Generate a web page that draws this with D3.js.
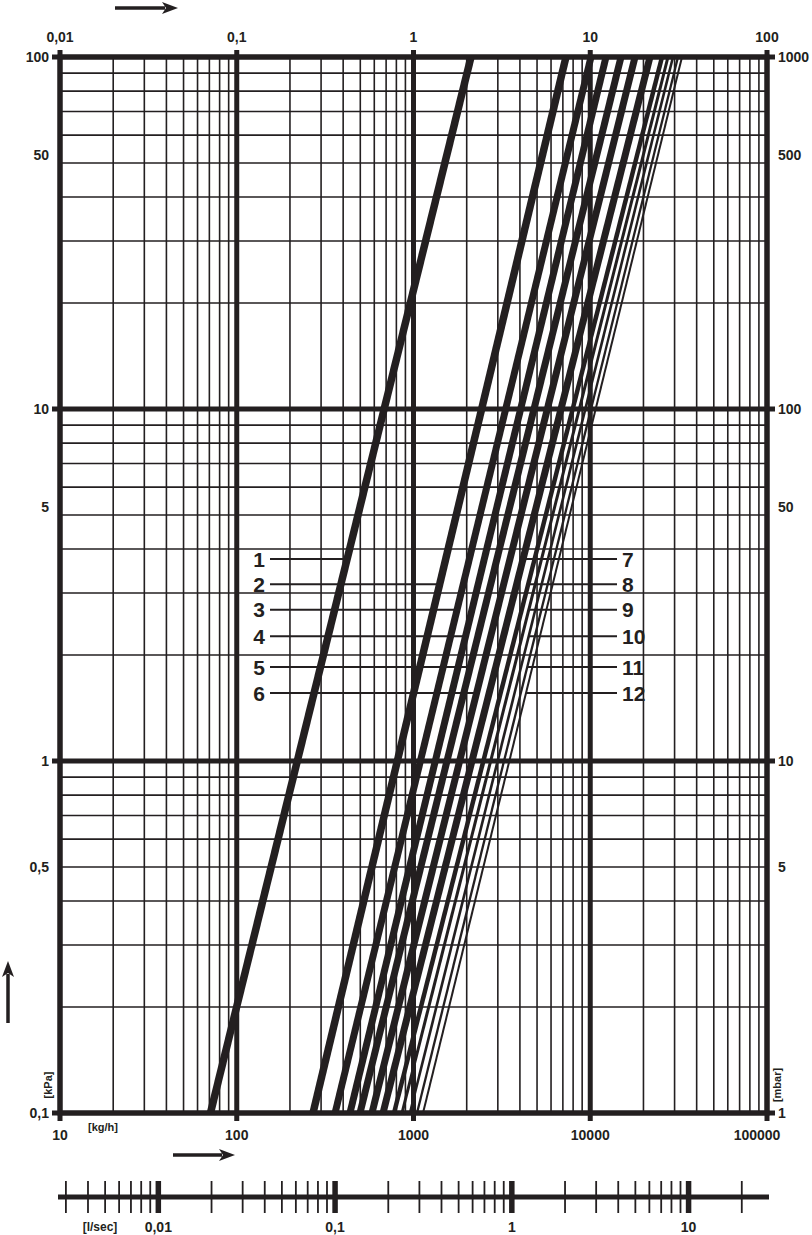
<!DOCTYPE html>
<html><head><meta charset="utf-8">
<script src="https://cdn.jsdelivr.net/npm/d3@7"></script>
<style>
body{margin:0;background:#fff;}
svg{display:block;}
text{font-family:"Liberation Sans Narrow","Liberation Sans",Arial,sans-serif;font-weight:bold;fill:#231f20;}
</style></head>
<body>
<script>
// ---- data ----
const flowDomain = [10, 100000];          // kg/h
const dpDomain = [0.1, 100];              // kPa
const curveIds = [1,2,3,4,5,6,7,8,9,10,11,12];
const flowAt01kPa = [71, 270, 360, 437, 498, 582, 672, 776, 861, 955, 1047, 1132];       // kg/h at 0.1 kPa
const flowAt100kPa = [2115, 7290, 10100, 12280, 14930, 17920, 21780, 25470, 27540, 29390, 31370, 33040]; // kg/h at 100 kPa
const curveWidths = [7.5, 7.5, 7, 7, 7, 7, 7, 4.5, 3, 2.6, 2.3, 2];
const labelRowDp = [3.75, 3.18, 2.69, 2.26, 1.85, 1.56];
const leftLabels = ["1","2","3","4","5","6"];
const rightLabels = ["7","8","9","10","11","12"];
const bottomTicks = [10, 100, 1000, 10000, 100000];
const bottomTickLabels = ["10","100","1000","10000","100000"];
const topTickLabels = ["0,01","0,1","1","10","100"];
const leftTicks = [100, 50, 10, 5, 1, 0.5, 0.1];
const leftTickLabels = ["100","50","10","5","1","0,5","0,1"];
const rightTickLabels = ["1000","500","100","50","10","5","1"];
const lsMajor = [0.01, 0.1, 1, 10];
const lsMajorLabels = ["0,01","0,1","1","10"];
const lsMinor = [0.003,0.004,0.005,0.006,0.007,0.008,0.009,
  0.02,0.03,0.04,0.05,0.06,0.07,0.08,0.09,
  0.2,0.3,0.4,0.5,0.6,0.7,0.8,0.9,
  2,3,4,5,6,7,8,9,20];

const W = 812, H = 1235, ink = "#231f20";
const L = 60, R = 767, T = 57, B = 1113;
const svg = d3.select("body").append("svg").attr("width", W).attr("height", H);

const x = d3.scaleLog().domain(flowDomain).range([L, R]);
const y = d3.scaleLog().domain(dpDomain).range([B, T]);
const xls = d3.scaleLog().domain([flowDomain[0]/3600, flowDomain[1]/3600]).range([L, R]);

// minor grid
const minorX = [], minorY = [];
for (let d = 10; d < 100000; d *= 10) for (let k = 2; k <= 9; k++) minorX.push(d*k);
for (let d = 0.1; d < 100; d *= 10) for (let k = 2; k <= 9; k++) minorY.push(+(d*k).toPrecision(3));
const g = svg.append("g");
g.selectAll(".mx").data(minorX).join("line")
  .attr("x1", d => x(d)).attr("x2", d => x(d)).attr("y1", T).attr("y2", B)
  .attr("stroke", ink).attr("stroke-width", 1.6);
g.selectAll(".my").data(minorY).join("line")
  .attr("y1", d => y(d)).attr("y2", d => y(d)).attr("x1", L).attr("x2", R)
  .attr("stroke", ink).attr("stroke-width", 1.6);
// major grid
g.selectAll(".Mx").data(bottomTicks).join("line")
  .attr("x1", d => x(d)).attr("x2", d => x(d)).attr("y1", T - 7).attr("y2", B + 8)
  .attr("stroke", ink).attr("stroke-width", 5);
const yDec = [0.1, 1, 10, 100];
g.selectAll(".My").data(yDec).join("line")
  .attr("y1", d => y(d)).attr("y2", d => y(d)).attr("x1", L - 8).attr("x2", R + 8)
  .attr("stroke", ink).attr("stroke-width", 5);

// curves
const clip = svg.append("clipPath").attr("id", "pc").append("rect")
  .attr("x", L).attr("y", T).attr("width", R - L).attr("height", B - T);
const lineGen = d3.line().x(d => x(d.q)).y(d => y(d.p));
const curves = curveIds.map((id, i) => ({id, w: curveWidths[i],
  pts: [{q: flowAt01kPa[i], p: dpDomain[0]}, {q: flowAt100kPa[i], p: dpDomain[1]}]}));
function flowAt(i, p) {
  const a = Math.log10(flowAt01kPa[i]), b = Math.log10(flowAt100kPa[i]);
  const f = (Math.log10(p) - Math.log10(dpDomain[0])) / (Math.log10(dpDomain[1]) - Math.log10(dpDomain[0]));
  return Math.pow(10, a + (b - a) * f);
}
// leaders
const lead = svg.append("g");
leftLabels.forEach((lab, r) => {
  const yy = y(labelRowDp[r]);
  lead.append("line").attr("x1", 270).attr("x2", x(flowAt(r, labelRowDp[r]))).attr("y1", yy).attr("y2", yy)
    .attr("stroke", ink).attr("stroke-width", 2);
  lead.append("text").attr("x", 259).attr("y", yy).attr("dy", "0.36em").attr("text-anchor", "middle")
    .style("font-family", "'Liberation Sans',Arial,sans-serif").attr("font-size", 21).text(lab);
});
rightLabels.forEach((lab, r) => {
  const yy = y(labelRowDp[r]);
  lead.append("line").attr("x1", x(flowAt(r + 6, labelRowDp[r]))).attr("x2", 617).attr("y1", yy).attr("y2", yy)
    .attr("stroke", ink).attr("stroke-width", 2);
  lead.append("text").attr("x", 622).attr("y", yy).attr("dy", "0.36em").attr("text-anchor", "start")
    .style("font-family", "'Liberation Sans',Arial,sans-serif").attr("font-size", 21).text(lab);
});
svg.append("g").attr("clip-path", "url(#pc)").selectAll("path").data(curves).join("path")
  .attr("d", d => lineGen(d.pts)).attr("fill", "none").attr("stroke", ink).attr("stroke-width", d => d.w);

// frame
svg.append("rect").attr("x", L).attr("y", T).attr("width", R - L).attr("height", B - T)
  .attr("fill", "none").attr("stroke", ink).attr("stroke-width", 5);

// tick labels
const fs = 14;
svg.selectAll(".tl").data(topTickLabels).join("text")
  .attr("x", (d, i) => x(bottomTicks[i])).attr("y", 37).attr("dy", "0.35em")
  .attr("text-anchor", "middle").attr("font-size", fs).text(d => d);
svg.selectAll(".bl").data(bottomTickLabels).join("text")
  .attr("x", (d, i) => i === 4 ? x(bottomTicks[i]) - 10 : x(bottomTicks[i])).attr("y", 1135).attr("dy", "0.35em")
  .attr("text-anchor", "middle").attr("font-size", fs).text(d => d);
const halfShift = d => (String(d)[0] === "5" ? -8 : 0);
svg.selectAll(".ll").data(leftTickLabels).join("text")
  .attr("x", 49).attr("y", (d, i) => y(leftTicks[i]) + halfShift(leftTicks[i])).attr("dy", "0.35em")
  .attr("text-anchor", "end").attr("font-size", fs).text(d => d);
svg.selectAll(".rl").data(rightTickLabels).join("text")
  .attr("x", 778).attr("y", (d, i) => y(leftTicks[i]) + halfShift(leftTicks[i])).attr("dy", "0.35em")
  .attr("text-anchor", "start").attr("font-size", fs).text(d => d);
svg.append("text").attr("x", 88).attr("y", 1127).attr("dy", "0.35em").attr("font-size", 11).text("[kg/h]");
svg.append("text").attr("transform", "translate(52,1085) rotate(-90)").attr("text-anchor", "middle")
  .attr("font-size", 11).text("[kPa]");
svg.append("text").attr("transform", "translate(781,1085) rotate(-90)").attr("text-anchor", "middle")
  .attr("font-size", 11).text("[mbar]");

// l/sec axis
const ls = svg.append("g");
ls.append("line").attr("x1", 58).attr("x2", 769).attr("y1", 1197).attr("y2", 1197)
  .attr("stroke", ink).attr("stroke-width", 5);
ls.selectAll(".lm").data(lsMinor).join("line")
  .attr("x1", d => xls(d)).attr("x2", d => xls(d)).attr("y1", 1181).attr("y2", 1213)
  .attr("stroke", ink).attr("stroke-width", 1.8);
ls.selectAll(".lM").data(lsMajor).join("line")
  .attr("x1", d => xls(d)).attr("x2", d => xls(d)).attr("y1", 1181).attr("y2", 1213)
  .attr("stroke", ink).attr("stroke-width", 5.5);
ls.selectAll(".lt").data(lsMajorLabels).join("text")
  .attr("x", (d, i) => xls(lsMajor[i])).attr("y", 1227).attr("dy", "0.35em")
  .attr("text-anchor", "middle").attr("font-size", fs).text(d => d);
ls.append("text").attr("x", 100).attr("y", 1227).attr("dy", "0.35em").attr("text-anchor", "middle")
  .attr("font-size", 12).text("[l/sec]");

// arrows
function arrow(x1, y1, x2, y2) {
  const a = svg.append("g");
  const ang = Math.atan2(y2 - y1, x2 - x1);
  const hl = 16, hw = 6;
  const bx = x2 - hl * Math.cos(ang), by = y2 - hl * Math.sin(ang);
  a.append("line").attr("x1", x1).attr("y1", y1).attr("x2", bx + 3 * Math.cos(ang)).attr("y2", by + 3 * Math.sin(ang))
    .attr("stroke", ink).attr("stroke-width", 3.5);
  const px = -Math.sin(ang), py = Math.cos(ang);
  a.append("path").attr("d", `M${x2},${y2} L${bx + hw*px},${by + hw*py} L${bx + 4*Math.cos(ang)},${by + 4*Math.sin(ang)} L${bx - hw*px},${by - hw*py} Z`)
    .attr("fill", ink);
}
arrow(115, 8, 178, 8);
arrow(173, 1155, 235, 1155);
arrow(8, 1023, 8, 961);
</script>
</body></html>
